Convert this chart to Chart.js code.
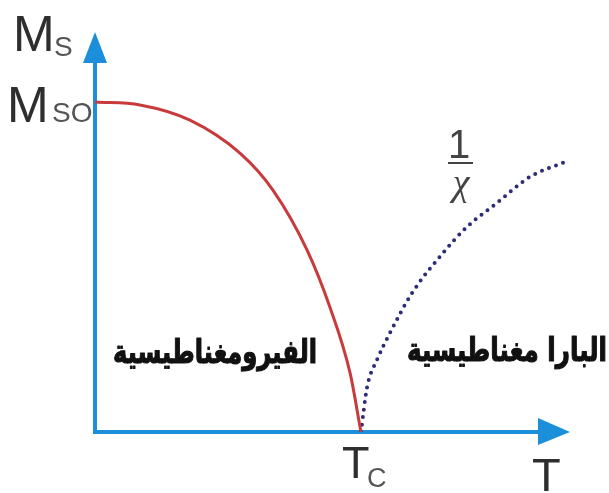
<!DOCTYPE html>
<html>
<head>
<meta charset="utf-8">
<script src="https://cdn.jsdelivr.net/npm/chart.js@4"></script>
<style>
  body { margin: 0; background: #fff; }
  canvas { display: block; }
</style>
</head>
<body>
<canvas id="curieChart" width="609" height="493"></canvas>
<script>
// ferromagnetic Ms(T), normalised: T in units of Tc, M in units of Ms0
const ferroT = [0, 0.169, 0.357, 0.545, 0.669, 0.797, 0.883, 0.959, 1.0];
const ferroM = [1.0, 0.991, 0.945, 0.845, 0.733, 0.552, 0.379, 0.179, 0];

// paramagnetic 1/chi above Tc (dotted)
const paraT = [1.0, 1.023, 1.06, 1.109, 1.192, 1.308, 1.398, 1.511, 1.635, 1.767];
const paraM = [0, 0.136, 0.218, 0.30, 0.421, 0.542, 0.621, 0.694, 0.773, 0.818];

const tcValue = 1;      // Tc on the T axis
const ms0Value = 1;     // Ms0 on the M axis
const xMax = 1.786;
const yMax = 1.212;

const ferroLabel = 'الفيرومغناطيسية';
const paraLabel = 'البارا مغناطيسية';

const AXIS_BLUE = '#1b8fd9';
const TEXT_GREY = '#2e2e2e';

function toPoints(xs, ys) {
    return xs.map((x, i) => ({ x: x, y: ys[i] }));
}

// draws the arrowed axes under the curves
const axesPlugin = {
    id: 'axesPlugin',
    beforeDatasetsDraw(chart) {
        const ctx = chart.ctx;
        const xs = chart.scales.x, ys = chart.scales.y;
        const x0 = xs.getPixelForValue(0), y0 = ys.getPixelForValue(0);
        const xEnd = xs.getPixelForValue(xMax), yEnd = ys.getPixelForValue(yMax);

        ctx.save();
        ctx.strokeStyle = AXIS_BLUE;
        ctx.fillStyle = AXIS_BLUE;
        ctx.lineWidth = 4;
        ctx.beginPath();
        ctx.moveTo(x0, yEnd + 20);
        ctx.lineTo(x0, y0);
        ctx.lineTo(xEnd - 20, y0);
        ctx.stroke();

        // y arrow head
        ctx.beginPath();
        ctx.moveTo(x0, yEnd);
        ctx.lineTo(x0 - 12, yEnd + 31);
        ctx.lineTo(x0 + 12, yEnd + 31);
        ctx.closePath();
        ctx.fill();

        // x arrow head
        ctx.beginPath();
        ctx.moveTo(xEnd, y0);
        ctx.lineTo(xEnd - 32, y0 - 14);
        ctx.lineTo(xEnd - 32, y0 + 13);
        ctx.closePath();
        ctx.fill();
        ctx.restore();
    },
    afterDraw(chart) {
        const ctx = chart.ctx;
        const xs = chart.scales.x, ys = chart.scales.y;
        const y0 = ys.getPixelForValue(0);
        const tcX = xs.getPixelForValue(tcValue);
        const msY = ys.getPixelForValue(ms0Value);

        ctx.save();
        ctx.fillStyle = TEXT_GREY;
        ctx.textBaseline = 'alphabetic';
        ctx.textAlign = 'left';

        // Ms (axis title)
        ctx.font = '50px "Liberation Sans", Arial, sans-serif';
        ctx.fillText('M', 13, 51);
        ctx.font = '28px "Liberation Sans", Arial, sans-serif';
        ctx.fillStyle = '#555';
        ctx.fillText('S', 54, 56);

        // Ms0 tick
        ctx.fillStyle = TEXT_GREY;
        ctx.font = '50px "Liberation Sans", Arial, sans-serif';
        ctx.fillText('M', 7, msY + 20);
        ctx.fillStyle = '#555';
        ctx.font = '28px "Liberation Sans", Arial, sans-serif';
        ctx.fillText('SO', 52, msY + 20);

        // Tc tick
        ctx.fillStyle = TEXT_GREY;
        ctx.font = '45px "Liberation Sans", Arial, sans-serif';
        ctx.fillText('T', tcX - 19, y0 + 46);
        ctx.fillStyle = '#555';
        ctx.font = '27px "Liberation Sans", Arial, sans-serif';
        ctx.fillText('C', tcX + 6, y0 + 55);

        // T (axis title)
        ctx.fillStyle = TEXT_GREY;
        ctx.font = '47px "Liberation Sans", Arial, sans-serif';
        ctx.fillText('T', 532, y0 + 59);

        // 1 / chi
        ctx.textAlign = 'center';
        ctx.fillStyle = '#444';
        ctx.font = '40px "Liberation Sans", Arial, sans-serif';
        ctx.fillText('1', 459, 158);
        ctx.fillRect(448, 162, 25, 2);
        ctx.font = 'italic 38px "Liberation Serif", serif';
        ctx.fillText('χ', 461, 195);

        // Arabic region labels, squeezed to the reference width, a bit heavier
        ctx.fillStyle = '#111';
        ctx.strokeStyle = '#111';
        ctx.lineWidth = 1.2;
        ctx.lineJoin = 'round';
        const drawFit = (txt, cx, base, w) => {
            ctx.font = 'bold 33px "DejaVu Sans", sans-serif';
            const sx = w / ctx.measureText(txt).width;
            ctx.save();
            ctx.translate(cx, base);
            ctx.scale(sx, 1);
            ctx.fillText(txt, 0, 0);
            ctx.strokeText(txt, 0, 0);
            ctx.restore();
        };
        drawFit(ferroLabel, 215, 363, 204);
        drawFit(paraLabel, 507, 361, 200);
        ctx.restore();
    }
};

new Chart(document.getElementById('curieChart'), {
    type: 'line',
    data: {
        datasets: [{
            label: 'Ms',
            data: toPoints(ferroT, ferroM),
            borderColor: '#c83a3c',
            borderWidth: 3,
            pointRadius: 0,
            cubicInterpolationMode: 'monotone',
            fill: false
        }, {
            label: '1/chi',
            data: toPoints(paraT, paraM),
            borderColor: '#2d2c78',
            borderWidth: 4,
            borderDash: [0, 7.5],
            borderCapStyle: 'round',
            pointRadius: 0,
            cubicInterpolationMode: 'monotone',
            fill: false
        }]
    },
    options: {
        responsive: false,
        animation: false,
        layout: { padding: { left: 95, right: 39, top: 32, bottom: 61 } },
        plugins: { legend: { display: false }, tooltip: { enabled: false } },
        scales: {
            x: { type: 'linear', min: 0, max: xMax, display: false },
            y: { type: 'linear', min: 0, max: yMax, display: false }
        }
    },
    plugins: [axesPlugin]
});
</script>
</body>
</html>
